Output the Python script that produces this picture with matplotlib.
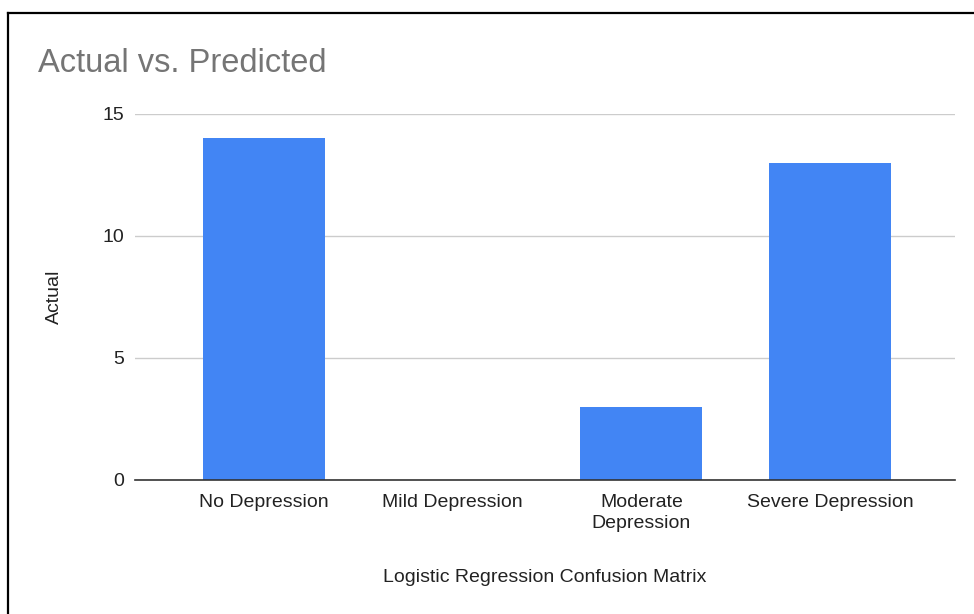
import matplotlib.pyplot as plt
from matplotlib.lines import Line2D

plt.rcParams['font.family'] = ['Liberation Sans', 'DejaVu Sans']

categories = ['No Depression', 'Mild Depression', 'Moderate\nDepression', 'Severe Depression']
actual = [14, 0, 3, 13]

W, H = 974, 614
fig = plt.figure(figsize=(W / 100, H / 100), dpi=100)
ax = fig.add_axes([135 / W, 1 - 480 / H, (955 - 135) / W, (480 - 114) / H])

x = range(len(categories))
ax.bar(x, actual, width=0.647, color='#4285F4', zorder=3)

ax.set_ylim(0, 15)
ax.set_xlim(-0.683, 3.662)
ax.set_yticks([0, 5, 10, 15])
ax.set_xticks(list(x))
ax.set_xticklabels(categories, fontsize=14, color='#222222', linespacing=1.35)
ax.tick_params(axis='both', length=0, labelsize=14, labelcolor='#222222')
ax.tick_params(axis='y', pad=8)
ax.tick_params(axis='x', pad=10)

ax.grid(axis='y', color='#cccccc', linewidth=1, zorder=0)
for side in ['top', 'right', 'left']:
    ax.spines[side].set_visible(False)
ax.spines['bottom'].set_color('#333333')
ax.spines['bottom'].set_linewidth(1.2)
ax.spines['bottom'].set_zorder(4)

ax.set_ylabel('Actual', fontsize=14, color='#222222', labelpad=28)
ax.set_xlabel('Logistic Regression Confusion Matrix', fontsize=14, color='#222222', labelpad=26)

fig.text(38 / W, 1 - 64 / H, 'Actual vs. Predicted', fontsize=23.5, color='#757575',
         ha='left', va='center')

# outer frame along the top and left edge
fig.add_artist(Line2D([7.5 / W, 7.5 / W], [0, 1 - 12.5 / H], color='black', linewidth=1.6,
                      transform=fig.transFigure))
fig.add_artist(Line2D([7.5 / W, 1], [1 - 12.5 / H, 1 - 12.5 / H], color='black', linewidth=1.6,
                      transform=fig.transFigure))

fig.savefig('out.png', dpi=100)
